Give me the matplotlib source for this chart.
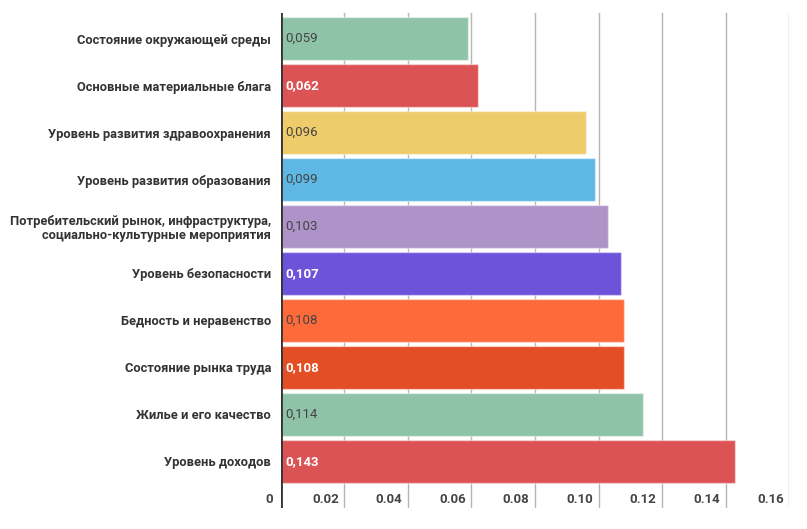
import matplotlib.pyplot as plt
from matplotlib.transforms import blended_transform_factory

plt.rcParams['font.family'] = ['Roboto', 'DejaVu Sans']

# ========== Data ========== #
categories = [
    "Состояние окружающей среды",
    "Основные материальные блага",
    "Уровень развития здравоохранения",
    "Уровень развития образования",
    "Потребительский рынок, инфраструктура,\nсоциально-культурные мероприятия",
    "Уровень безопасности",
    "Бедность и неравенство",
    "Состояние рынка труда",
    "Жилье и его качество",
    "Уровень доходов",
]
values = [0.059, 0.062, 0.096, 0.099, 0.103, 0.107, 0.108, 0.108, 0.114, 0.143]
value_labels = ["0,059", "0,062", "0,096", "0,099", "0,103", "0,107", "0,108", "0,108", "0,114", "0,143"]
colors = ["#8fc3a8", "#dc5356", "#eecb6b", "#5fb7e5", "#ad93c8",
          "#6c53d9", "#ff6a3a", "#e34e24", "#8fc3a8", "#dc5356"]
white_text = [False, True, False, False, False, True, False, True, False, True]
x_ticks = [0, 0.02, 0.04, 0.06, 0.08, 0.10, 0.12, 0.14, 0.16]
x_tick_labels = ["0", "0.02", "0.04", "0.06", "0.08", "0.10", "0.12", "0.14", "0.16"]

# ========== Figure ========== #
fig = plt.figure(figsize=(8.07, 5.29), dpi=100)
ax = fig.add_axes([0.348, 0.040, 0.630, 0.935])

pos = list(range(len(categories)))
ax.barh(pos, values, height=0.915, color=colors,
        edgecolor=(1, 1, 1, 0.45), linewidth=1, zorder=2)

ax.set_xlim(0, 0.16)
ax.set_ylim(9.99, -0.54)

# grid
for t in x_ticks[1:]:
    ax.axvline(t, color="#b5b5b5", lw=1, zorder=1)
ax.axvline(0, color="#333333", lw=2, zorder=3)

# category labels
ax.set_yticks(pos)
ax.set_yticklabels(categories, fontsize=9.25, fontweight="bold", color="#333333",
                   linespacing=1.15)
ax.tick_params(axis="y", length=0, pad=7)
ax.set_xticks([])

# x tick labels sit left of their gridlines at the bottom
trans = blended_transform_factory(ax.transData, ax.transAxes)
for t, lab in zip(x_ticks, x_tick_labels):
    ax.annotate(lab, xy=(t, 0.017), xycoords=trans, xytext=(-6 if t == 0 else -4, 0),
                textcoords="offset points", ha="right", va="center",
                fontsize=9.5, fontweight="bold", color="#444444")

# value labels
for p, v, lab, w in zip(pos, values, value_labels, white_text):
    ax.annotate(lab, xy=(0, p), xytext=(3, 0), textcoords="offset points",
                ha="left", va="center", fontsize=9.5,
                fontweight="bold" if w else "normal",
                color="white" if w else "#444444", zorder=4)

for s in ax.spines.values():
    s.set_visible(False)

fig.savefig("out.png", dpi=100)
